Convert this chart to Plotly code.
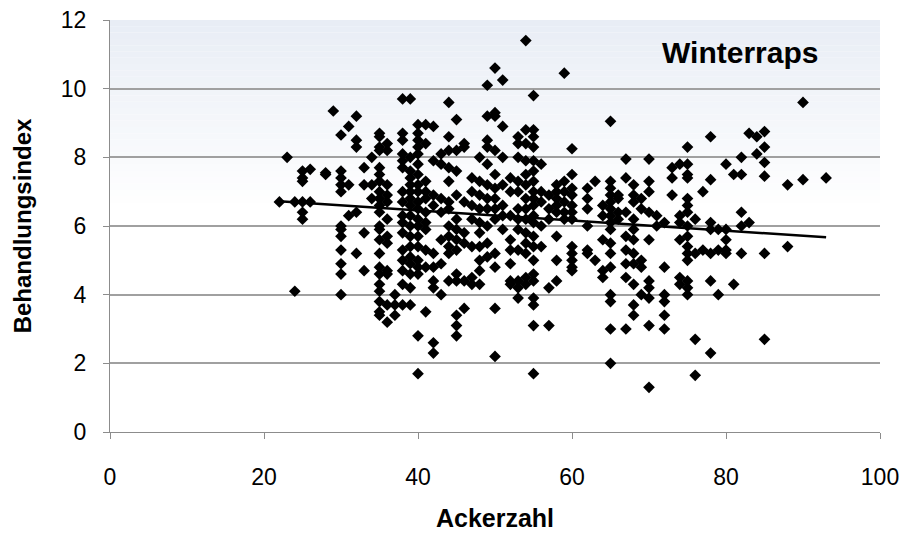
import plotly.graph_objects as go

# Ackerzahl-Spalten und die dazugehörigen Behandlungsindex-Werte
ackerzahl_cols = [22, 23, 24, 25, 26, 28, 29, 30, 31, 32, 33, 34, 35, 36, 37, 38, 39, 40,
                  41, 42, 43, 44, 45, 46, 47, 48, 49, 50, 51, 52, 53, 54, 55, 56, 57, 58,
                  59, 60, 62, 63, 64, 65, 66, 67, 68, 69, 70, 71, 72, 73, 74, 75, 76, 77,
                  78, 79, 80, 81, 82, 83, 84, 85, 88, 90, 93]
index_cols = [
    [6.7],
    [8.0],
    [4.1, 6.7],
    [7.6, 7.4, 7.3, 6.7, 6.4, 6.2],
    [7.65, 6.7],
    [7.55, 7.5],
    [9.35],
    [8.65, 7.6, 7.4, 7.2, 7.0, 6.0, 5.9, 5.7, 5.3, 4.9, 4.6, 4.0],
    [8.9, 7.2, 6.3],
    [9.2, 8.5, 8.3, 6.4, 5.2],
    [7.7, 7.2, 5.8, 4.7],
    [8.0, 7.2, 6.8],
    [8.7, 8.6, 8.3, 8.2, 7.7, 7.5, 7.3, 7.0, 6.8, 6.6, 6.4, 6.0, 5.9, 5.6, 5.2, 4.8, 4.6,
     4.3, 4.1, 3.8, 3.5, 3.4],
    [8.4, 8.2, 7.2, 6.9, 6.7, 6.2, 5.7, 5.5, 4.7, 4.6, 3.7, 3.2],
    [4.0, 3.7, 3.4],
    [9.7, 8.7, 8.5, 8.1, 7.9, 7.7, 7.0, 6.7, 6.3, 6.1, 5.8, 5.3, 5.0, 4.7, 4.3, 3.7],
    [9.7, 8.0, 7.6, 7.4, 7.2, 7.0, 6.8, 6.6, 6.3, 6.0, 5.7, 5.4, 5.1, 4.9, 4.6, 4.2, 3.7],
    [8.95, 8.7, 8.5, 8.3, 8.1, 7.8, 7.5, 7.2, 7.0, 6.7, 6.5, 6.2, 6.0, 5.7, 5.4, 5.0, 4.8,
     4.6, 2.8, 1.7],
    [8.95, 8.4, 7.3, 7.0, 6.8, 6.4, 6.1, 5.9, 5.3, 4.8, 3.5],
    [8.9, 7.9, 6.9, 6.6, 5.2, 4.8, 4.4, 4.2, 2.6, 2.3],
    [8.1, 7.8, 6.8, 6.4, 5.6, 4.9, 4.0],
    [9.6, 8.6, 8.2, 7.7, 7.3, 6.7, 6.5, 6.0, 5.7, 5.4, 5.2, 4.4],
    [9.1, 8.2, 7.6, 6.9, 6.2, 5.9, 5.6, 5.3, 4.6, 4.4, 3.4, 3.1, 2.8],
    [8.4, 8.3, 6.7, 5.8, 5.5, 4.4, 3.6],
    [7.4, 7.0, 6.6, 6.2, 5.4, 4.5, 4.3],
    [8.0, 7.3, 6.9, 6.5, 6.1, 5.8, 5.4, 5.0, 4.7, 4.3],
    [10.1, 9.2, 8.5, 8.3, 7.8, 7.2, 6.8, 6.5, 6.0, 5.5, 5.1],
    [10.6, 9.3, 9.2, 8.2, 7.5, 7.1, 6.8, 6.5, 6.2, 5.2, 4.8, 3.6, 2.2],
    [10.25, 8.9, 8.0, 7.2, 6.6, 6.3, 5.9],
    [7.4, 7.0, 6.3, 5.6, 5.3, 4.9, 4.4, 4.3],
    [8.6, 8.4, 8.0, 7.3, 7.0, 6.5, 6.2, 5.9, 5.3, 4.4, 4.2, 3.9],
    [11.4, 8.8, 8.4, 7.9, 7.5, 7.2, 6.8, 6.5, 6.2, 5.8, 5.5, 5.2, 4.5, 4.3],
    [9.8, 8.8, 8.6, 8.3, 7.9, 7.6, 7.3, 7.0, 6.8, 6.6, 6.3, 6.1, 5.7, 5.4, 5.0, 4.6, 4.4,
     3.9, 3.7, 3.1, 1.7],
    [7.8, 7.0, 6.7, 6.0, 5.4],
    [6.9, 6.5, 6.2, 4.2, 3.1],
    [7.2, 7.0, 6.8, 6.6, 6.4, 5.7, 5.0, 4.4],
    [10.45, 7.3, 7.0, 6.7, 6.4, 6.2],
    [8.25, 7.5, 7.1, 6.9, 6.6, 6.4, 6.2, 5.4, 5.2, 5.0, 4.8, 4.7],
    [7.1, 6.8, 6.5, 6.0, 5.3, 5.2],
    [7.3, 5.0],
    [6.6, 6.3, 5.6, 4.7, 4.5],
    [9.05, 7.3, 7.1, 6.9, 6.7, 6.5, 6.3, 6.1, 5.9, 5.5, 5.2, 4.8, 4.0, 3.8, 3.0, 2.0],
    [6.9, 6.8, 6.4, 6.2],
    [7.95, 7.4, 6.4, 5.7, 5.3, 4.9, 4.5, 3.0],
    [7.2, 6.9, 6.7, 6.2, 5.9, 5.6, 5.2, 4.9, 4.3, 3.7, 3.4],
    [6.8, 6.5, 5.0, 4.8, 4.0],
    [7.95, 7.3, 7.0, 6.4, 5.6, 4.4, 4.2, 3.9, 3.1, 1.3],
    [6.3, 6.0],
    [6.1, 4.8, 4.0, 3.8, 3.4, 3.0],
    [7.7, 7.4, 6.9],
    [7.8, 6.3, 6.1, 5.6, 4.5, 4.3],
    [8.3, 7.8, 7.5, 7.4, 6.8, 6.6, 6.4, 6.0, 5.7, 5.4, 5.2, 5.0, 4.4, 4.2, 4.0],
    [6.2, 5.2, 2.7, 1.65],
    [7.0, 5.3],
    [8.6, 7.35, 6.1, 5.9, 5.2, 4.4, 2.3],
    [5.9, 5.3, 4.0],
    [7.8, 5.9, 5.6, 5.3, 5.2],
    [7.5, 4.3],
    [8.0, 7.5, 6.4, 6.0, 5.2],
    [8.7, 6.1],
    [8.6, 8.1],
    [8.75, 8.3, 7.85, 7.45, 5.2, 2.7],
    [7.2, 5.4],
    [9.6, 7.35],
    [7.4],
]

trend_x = [22, 93]
trend_y = [6.72, 5.67]

x_vals = [a for a, ys in zip(ackerzahl_cols, index_cols) for _ in ys]
y_vals = [y for ys in index_cols for y in ys]

font_family = "Arial, Liberation Sans, sans-serif"

fig = go.Figure()

# Hintergrund-Verlauf oben (hellblau -> weiß)
n_steps = 30
y_lo, y_hi = 6.5, 12.0
top_rgb = (232, 237, 245)
for i in range(n_steps):
    t = (i + 0.5) / n_steps
    r = round(255 + (top_rgb[0] - 255) * t)
    g = round(255 + (top_rgb[1] - 255) * t)
    b = round(255 + (top_rgb[2] - 255) * t)
    y0 = y_lo + (y_hi - y_lo) * i / n_steps
    y1 = y_lo + (y_hi - y_lo) * (i + 1) / n_steps
    fig.add_shape(type="rect", xref="paper", yref="y", x0=0, x1=1, y0=y0, y1=y1,
                  fillcolor=f"rgb({r},{g},{b})", line=dict(width=0), layer="below")

fig.add_trace(go.Scatter(
    x=x_vals, y=y_vals, mode="markers",
    marker=dict(symbol="diamond", size=9, color="black"),
    showlegend=False,
))
fig.add_trace(go.Scatter(
    x=trend_x, y=trend_y, mode="lines",
    line=dict(color="black", width=2.5),
    showlegend=False,
))

fig.add_annotation(x=81.8, y=11.05, text="<b>Winterraps</b>", showarrow=False,
                   font=dict(family=font_family, size=30, color="black"))

fig.update_layout(
    width=909, height=535,
    margin=dict(l=102, r=37, t=12, b=111),
    paper_bgcolor="white", plot_bgcolor="white",
    font=dict(family=font_family, size=23, color="black"),
    xaxis=dict(
        range=[0, 100], tickvals=[0, 20, 40, 60, 80, 100], showgrid=False,
        zeroline=False, showline=True, linecolor="#8c8c8c", linewidth=1,
        ticks="outside", ticklen=6, tickcolor="#8c8c8c", ticklabelstandoff=18,
        ticklabeloverflow="allow", automargin=False,
        title=dict(text="<b>Ackerzahl</b>", standoff=20, font=dict(size=25)),
    ),
    yaxis=dict(
        range=[0, 12], tickvals=[0, 2, 4, 6, 8, 10, 12], showgrid=True,
        gridcolor="#a0a0a0", gridwidth=2, zeroline=False,
        showline=True, linecolor="#8c8c8c", linewidth=1,
        ticks="outside", ticklen=6, tickcolor="#8c8c8c", ticklabelstandoff=12,
        ticklabeloverflow="allow", automargin=False,
        title=dict(text="<b>Behandlungsindex</b>", standoff=22, font=dict(size=24)),
    ),
)

fig.write_html("out.html")
